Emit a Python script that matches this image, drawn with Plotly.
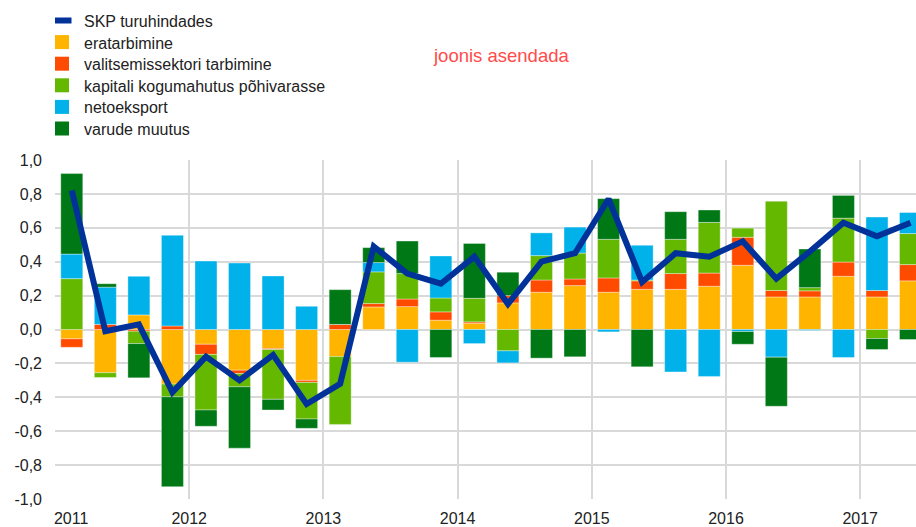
import plotly.graph_objects as go

# Quarters 2011Q1 .. 2017Q2
years = [2011]*4 + [2012]*4 + [2013]*4 + [2014]*4 + [2015]*4 + [2016]*4 + [2017]*2
quarters = [1, 2, 3, 4]*6 + [1, 2]

eratarbimine = [-0.055, -0.255, 0.086, -0.322, -0.087, -0.24, -0.112, -0.30,
                -0.16, 0.133, 0.135, 0.055, 0.037, 0.157, 0.22, 0.259,
                0.22, 0.237, 0.237, 0.255, 0.379, 0.192, 0.192, 0.314,
                0.192, 0.287]
valitsemissektori = [-0.05, 0.03, -0.01, 0.021, -0.06, -0.02, -0.006, -0.012,
                     0.03, 0.02, 0.045, 0.049, 0.008, 0.043, 0.072, 0.039,
                     0.084, 0.05, 0.093, 0.078, 0.165, 0.038, 0.036, 0.084,
                     0.038, 0.096]
kapitali = [0.30, -0.028, -0.073, -0.075, -0.328, -0.078, -0.294, -0.216,
            -0.40, 0.187, 0.15, 0.082, 0.139, -0.126, 0.144, 0.153,
            0.228, 0.005, 0.202, 0.299, 0.054, 0.527, 0.019, 0.259,
            -0.053, 0.183]
netoeksport = [0.145, 0.22, 0.228, 0.535, 0.404, 0.392, 0.316, 0.137,
               0.0, 0.055, -0.193, 0.248, -0.083, -0.071, 0.134, 0.153,
               -0.014, 0.205, -0.25, -0.277, -0.012, -0.163, -0.005, -0.165,
               0.433, 0.124]
varude = [0.475, 0.02, -0.202, -0.53, -0.096, -0.362, -0.063, -0.055,
          0.205, 0.088, 0.192, -0.165, 0.324, 0.138, -0.169, -0.161,
          0.24, -0.22, 0.163, 0.073, -0.075, -0.29, 0.228, 0.134,
          -0.065, -0.059]
skp = [0.82, -0.01, 0.03, -0.37, -0.16, -0.30, -0.15, -0.44,
       -0.32, 0.49, 0.33, 0.27, 0.43, 0.15, 0.40, 0.45,
       0.77, 0.28, 0.45, 0.43, 0.52, 0.30, 0.46, 0.63,
       0.55, 0.63]

y_tickvals = [-1.0, -0.8, -0.6, -0.4, -0.2, 0.0, 0.2, 0.4, 0.6, 0.8, 1.0]
y_ticktext = ["-1,0", "-0,8", "-0,6", "-0,4", "-0,2", "0,0", "0,2", "0,4", "0,6", "0,8", "1,0"]
year_labels = ["2011", "2012", "2013", "2014", "2015", "2016", "2017"]

# x position: middle of each quarter on a continuous year axis
x = [y + (q - 0.5) / 4 for y, q in zip(years, quarters)]

series = [
    ("eratarbimine", eratarbimine, "#ffb400"),
    ("valitsemissektori tarbimine", valitsemissektori, "#ff4b00"),
    ("kapitali kogumahutus põhivarasse", kapitali, "#65b800"),
    ("netoeksport", netoeksport, "#00b1ea"),
    ("varude muutus", varude, "#007816"),
]
line_name, line_color = "SKP turuhindades", "#003299"

W, H = 916, 527
ML, MR, MT, MB = 55, 0, 160, 28
PW, PH = W - ML - MR, H - MT - MB


def px_x(p):
    return (p - ML) / PW


def px_y(p):
    return (H - MB - p) / PH


fig = go.Figure()
fig.add_trace(go.Scatter(x=x, y=skp, mode="lines", name=line_name, showlegend=False,
                         line=dict(color=line_color, width=6)))
for name, vals, col in series:
    fig.add_trace(go.Bar(x=x, y=vals, name=name, width=0.164, showlegend=False,
                         marker=dict(color=col, line=dict(color="rgba(255,255,255,0.35)", width=1))))

# legend drawn as shapes + text (compact ECB-style legend)
shapes, annotations = [], []
row0, step = 20.5, 21.6
entries = [(line_name, line_color, "line")] + [(n, c, "box") for n, _, c in series]
for i, (name, col, kind) in enumerate(entries):
    cy = row0 + step * i
    if kind == "line":
        shapes.append(dict(type="rect", xref="paper", yref="paper",
                           x0=px_x(55), x1=px_x(71.5), y0=px_y(cy + 3), y1=px_y(cy - 3),
                           fillcolor=col, line=dict(width=0), layer="above"))
    else:
        shapes.append(dict(type="rect", xref="paper", yref="paper",
                           x0=px_x(55), x1=px_x(69), y0=px_y(cy + 7), y1=px_y(cy - 7),
                           fillcolor=col, line=dict(width=0), layer="above"))
    annotations.append(dict(text=name, x=px_x(82), y=px_y(cy + 1), xref="paper", yref="paper",
                            xanchor="left", yanchor="middle", showarrow=False,
                            font=dict(size=16, color="#222222")))

annotations.append(dict(text="joonis asendada", x=px_x(501), y=px_y(55.5), xref="paper", yref="paper",
                        xanchor="center", yanchor="middle", showarrow=False,
                        font=dict(size=18.5, color="#ff4b4b")))

font = "Liberation Sans, Arial, sans-serif"
fig.update_layout(
    width=W, height=H,
    barmode="relative",
    plot_bgcolor="white", paper_bgcolor="white",
    margin=dict(l=ML, r=MR, t=MT, b=MB, autoexpand=False),
    font=dict(family=font, size=16, color="#222222"),
    showlegend=False,
    shapes=shapes,
    annotations=annotations,
)
fig.update_xaxes(range=[2011, 2011 + PW / 134.2], showgrid=False, zeroline=False,
                 tickmode="array", tickvals=[2011.12, 2012, 2013, 2014, 2015, 2016, 2017],
                 ticktext=year_labels, ticks="", ticklabelstandoff=8,
                 minor=dict(tickmode="linear", tick0=2011, dtick=1, showgrid=True,
                            gridcolor="#d9d9d9", gridwidth=1.5, ticks=""))
fig.update_yaxes(range=[-1, 1], tickmode="array", tickvals=y_tickvals, ticktext=y_ticktext,
                 showgrid=True, gridcolor="#d9d9d9", gridwidth=1.5, zeroline=False,
                 ticks="", ticklabelstandoff=12)

fig.write_html("out.html", config={"displayModeBar": False},
               post_script="document.body.style.margin='0';document.body.style.overflow='hidden';")
